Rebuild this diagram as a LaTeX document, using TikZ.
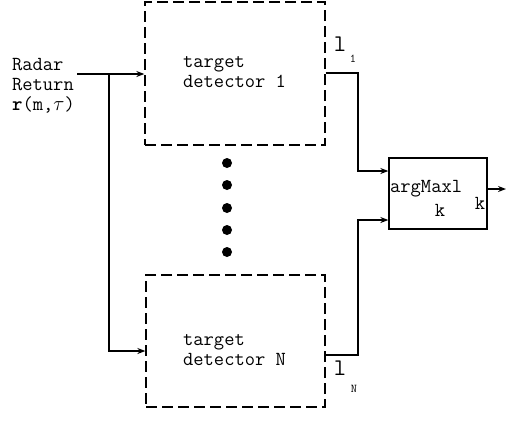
\documentclass[tikz,border=0pt]{standalone}
\usetikzlibrary{arrows.meta,calc}
\begin{document}
\begin{tikzpicture}[x=1bp,y=-1bp,
  dbox/.style={draw,dashed,dash pattern=on 11bp off 5bp,line width=1.3bp,inner sep=0pt},
  sbox/.style={draw,line width=1.3bp,inner sep=0pt},
  conn/.style={line width=1.3bp,-{Stealth[length=8bp,width=6bp]}},
  txt/.style={font=\fontsize{20}{20}\ttfamily\selectfont,align=left,inner sep=0pt},
  sub/.style={font=\fontsize{12}{12}\ttfamily\selectfont,inner sep=0pt},
  dot/.style={circle,fill,inner sep=0pt,minimum size=10bp}]
\useasboundingbox (0,0) rectangle (507,424);
\node[dbox,minimum width=180bp,minimum height=143bp] (b1) at (235,73.5) {};
\node[dbox,minimum width=179bp,minimum height=132bp] (bN) at (235.5,341) {};
\node[sbox,minimum width=98bp,minimum height=71bp] (am) at (438,193.5) {};
\node[txt,anchor=west] (t1) at (183,72) {target\\detector 1};
\node[txt,anchor=west] (tN) at (183,350) {target\\detector N};
\node[txt,anchor=west] (rr) at (12,86) {Radar\\Return\\\textbf{r}(m,$\tau$)};
\node[txt,anchor=west] (amt) at (390,189) {argMaxl};
\node[txt] (amk) at (440,210) {k};
\node[txt] (amsub) at (480,203) {k};
\node[font=\fontsize{24}{24}\ttfamily\selectfont,inner sep=0pt] (l1) at (340,44) {l};
\node[sub] (s1) at (353,59) {1};
\node[font=\fontsize{24}{24}\ttfamily\selectfont,inner sep=0pt] (lN) at (340,368) {l};
\node[sub] (sN) at (354,389) {N};
\foreach \i/\y in {1/163,2/185,3/208,4/230,5/252} \node[dot] (d\i) at (227,\y) {};
\coordinate (in) at (77,74);
\coordinate (br) at (109,74);
\coordinate (o1) at (358,73);
\coordinate (oN) at (358,355);
\coordinate (out) at (506,189);
\draw[conn] (in) -- (b1.west |- in);
\draw[conn] (br) |- (bN.west |- 0,351);
\draw[conn] (b1.east |- o1) -- (o1) |- (am.west |- 0,171);
\draw[conn] (bN.east |- oN) -- (oN) |- (am.west |- 0,220);
\draw[conn] (am.east |- out) -- (out);
\end{tikzpicture}
\end{document}
